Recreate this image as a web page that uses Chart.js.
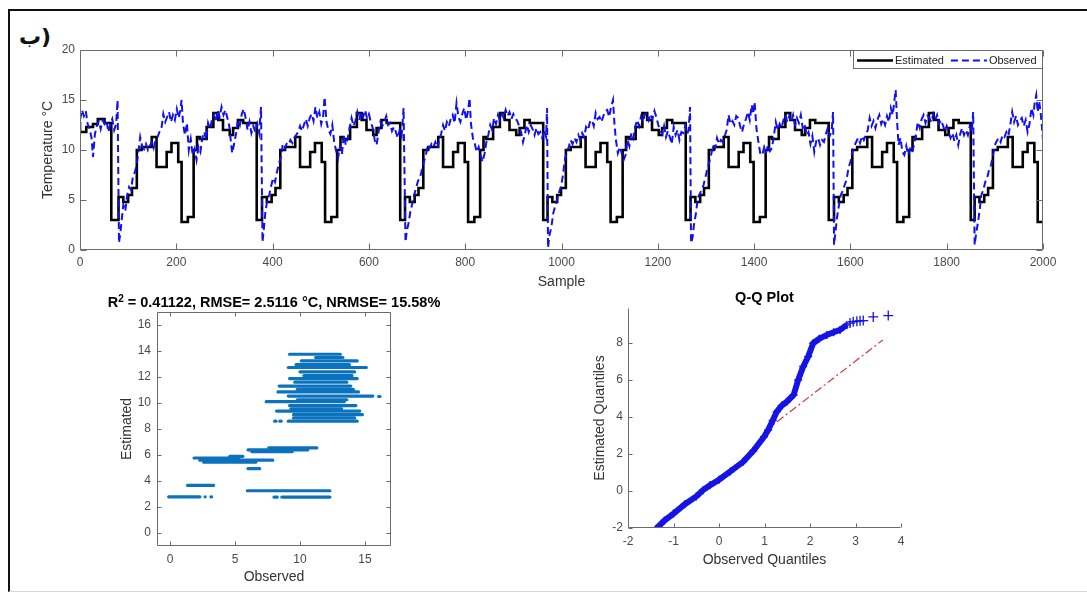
<!DOCTYPE html>
<html>
<head>
<meta charset="utf-8">
<script src="https://cdn.jsdelivr.net/npm/chart.js@4.4.1/dist/chart.umd.min.js"></script>
<style>
html, body { margin: 0; padding: 0; background: #fff; }
#page { position: relative; width: 1087px; height: 592px; overflow: hidden; }
.frame { position: absolute; left: 8px; top: 9px; width: 1100px; height: 580px;
  border-left: 2px solid #111; border-top: 2px solid #111; border-bottom: 1px solid #d6d6d6; }
canvas { position: absolute; }
#tag { position: absolute; left: 19px; top: 24px; font: bold 22px "DejaVu Sans", sans-serif;
  direction: ltr; unicode-bidi: bidi-override; color: #111; }
</style>
</head>
<body>
<div id="page">
  <div class="frame"></div>
  <div id="tag">ب)</div>
  <canvas id="topChart" width="1087" height="295" style="left:0;top:0"></canvas>
  <canvas id="scatterChart" width="428" height="305" style="left:60px;top:285px"></canvas>
  <canvas id="qqChart" width="410" height="293" style="left:560px;top:280px"></canvas>
</div>
<script>
// --- time series (sample, °C) ---
const estimated = [
  [0,12.8],[13,11.8],[27,12.3],[37,12.6],[51,13.1],[65,12.7],
  [80,3.0],[90,5.3],[100,4.8],[108,5.5],[118,6.2],[128,10.0],[149,10.3],[159,11.3],[180,8.3],[190,9.8],[204,10.7],[211,8.8],[224,2.8],[236,3.3],[243,10.0],[249,11.3],[263,11.1],[277,12.3],[287,13.7],[297,13.0],[311,12.0],[318,11.5],[328,12.2],[339,13.0],[367,12.7],
  [378,3.0],[388,5.3],[398,4.8],[406,5.5],[416,6.2],[426,10.0],[447,10.3],[457,11.3],[478,8.3],[488,9.8],[502,10.7],[509,8.8],[522,2.8],[534,3.3],[541,10.0],[547,11.3],[561,11.1],[575,12.3],[585,13.7],[595,13.0],[609,12.0],[616,11.5],[626,12.2],[637,13.0],[665,12.7],
  [675,3.0],[685,5.3],[695,4.8],[703,5.5],[713,6.2],[723,10.0],[744,10.3],[754,11.3],[775,8.3],[785,9.8],[799,10.7],[806,8.8],[819,2.8],[831,3.3],[838,10.0],[844,11.3],[858,11.1],[872,12.3],[882,13.7],[892,13.0],[906,12.0],[913,11.5],[923,12.2],[934,13.0],[962,12.7],
  [971,3.0],[981,5.3],[991,4.8],[999,5.5],[1009,6.2],[1019,10.0],[1040,10.3],[1050,11.3],[1071,8.3],[1081,9.8],[1095,10.7],[1102,8.8],[1115,2.8],[1127,3.3],[1134,10.0],[1140,11.3],[1154,11.1],[1168,12.3],[1178,13.7],[1188,13.0],[1202,12.0],[1209,11.5],[1219,12.2],[1230,13.0],[1258,12.7],
  [1268,3.0],[1278,5.3],[1288,4.8],[1296,5.5],[1306,6.2],[1316,10.0],[1337,10.3],[1347,11.3],[1368,8.3],[1378,9.8],[1392,10.7],[1399,8.8],[1412,2.8],[1424,3.3],[1431,10.0],[1437,11.3],[1451,11.1],[1465,12.3],[1475,13.7],[1485,13.0],[1499,12.0],[1506,11.5],[1516,12.2],[1527,13.0],[1555,12.7],
  [1566,3.0],[1576,5.3],[1586,4.8],[1594,5.5],[1604,6.2],[1614,10.0],[1635,10.3],[1645,11.3],[1666,8.3],[1676,9.8],[1690,10.7],[1697,8.8],[1710,2.8],[1722,3.3],[1729,10.0],[1735,11.3],[1749,11.1],[1763,12.3],[1773,13.7],[1783,13.0],[1797,12.0],[1804,11.5],[1814,12.2],[1825,13.0],[1850,12.7],
  [1858,3.0],[1868,5.3],[1878,4.8],[1886,5.5],[1896,6.2],[1906,10.0],[1927,10.3],[1937,11.3],[1958,8.3],[1968,9.8],[1982,10.7],[1989,8.8],[1998,2.8],[2000,2.8]
];

const observed = [
  [0,13.0],[4,14.0],[8,13.4],[12,13.9],[16,12.6],[20,12.1],[24,11.2],[27,9.3],[31,11.6],[35,12.4],[39,12.9],[43,12.1],[47,13.0],[51,12.6],[55,12.9],[59,11.8],[63,12.6],[67,13.1],[71,12.0],[75,12.6],[78,15.0],
  [81,0.7],[84,1.8],[87,3.2],[90,4.5],[94,3.9],[98,5.5],[102,6.3],[106,6.0],[110,7.4],[114,7.8],[118,8.6],[122,10.1],[125,11.3],[129,10.4],[133,10.1],[137,10.6],[141,10.0],[145,10.4],[149,10.8],[153,10.2],[157,11.0],[161,11.3],[165,11.8],[169,12.1],[173,13.6],[177,12.8],[181,13.3],[185,13.8],[189,12.8],[193,13.5],[197,13.0],[201,14.1],[205,13.2],[208,13.9],[211,15.0],[214,12.6],[218,11.5],[222,12.7],[226,10.0],[230,11.1],[234,9.5],[238,10.1],[242,9.0],[246,10.3],[250,9.8],[254,11.2],[258,11.8],[262,11.0],[266,12.7],[270,12.1],[274,13.0],[278,13.5],[282,12.8],[286,14.0],[290,13.3],[294,14.3],[298,13.5],[302,14.0],[306,13.2],[310,12.4],[313,11.0],[316,9.7],[320,10.6],[324,11.6],[328,13.0],[332,12.5],[336,13.6],[340,14.1],[344,13.2],[348,12.0],[352,12.8],[356,11.7],[360,12.4],[364,11.8],[368,12.6],[372,11.7],[376,14.3],
  [379,0.8],[382,2.2],[385,3.8],[389,5.0],[393,5.5],[397,6.4],[401,7.2],[405,6.8],[409,7.8],[413,8.6],[417,9.3],[421,10.5],[425,10.1],[429,10.6],[433,10.5],[437,11.0],[441,10.7],[445,11.2],[449,11.5],[453,11.8],[457,12.4],[461,11.9],[465,12.5],[469,13.1],[473,12.4],[477,13.2],[481,13.6],[485,12.9],[489,14.3],[493,13.2],[497,13.8],[501,12.6],[505,13.4],[508,15.3],[512,12.8],[516,12.0],[520,11.6],[524,12.5],[528,10.8],[532,9.9],[536,9.2],[540,10.4],[544,9.6],[548,11.5],[552,10.5],[556,11.2],[560,12.2],[564,13.2],[568,12.4],[572,12.9],[576,13.8],[580,13.0],[584,13.8],[588,13.3],[592,14.0],[596,13.2],[600,13.6],[604,12.8],[608,12.2],[612,11.0],[616,10.5],[620,11.8],[624,12.8],[628,12.4],[632,12.8],[636,13.4],[640,12.5],[644,12.7],[648,11.9],[652,12.3],[656,11.8],[660,11.2],[664,12.0],[668,11.4],[672,14.2],
  [676,0.8],[679,2.0],[682,2.6],[686,3.8],[690,4.6],[694,5.5],[698,6.2],[702,6.9],[706,7.2],[710,8.0],[714,8.8],[718,9.4],[722,10.5],[726,10.2],[730,10.6],[734,10.3],[738,10.8],[742,10.2],[746,11.0],[750,11.6],[754,12.5],[758,11.9],[762,12.8],[766,12.4],[770,13.1],[774,13.5],[778,12.7],[782,14.7],[786,13.3],[790,12.8],[794,13.6],[798,14.2],[802,13.0],[806,13.9],[809,15.2],[812,12.6],[816,11.2],[820,10.6],[824,9.8],[828,10.3],[832,9.5],[836,8.8],[840,9.6],[844,10.8],[848,11.5],[852,12.5],[856,12.0],[860,13.2],[864,12.6],[868,13.5],[872,13.0],[876,13.6],[880,13.2],[884,14.0],[888,13.4],[892,13.8],[896,13.1],[900,13.6],[904,13.2],[908,12.9],[912,12.4],[916,11.8],[920,10.8],[924,11.6],[928,12.5],[932,11.8],[936,12.5],[940,12.1],[944,11.5],[948,12.2],[952,11.6],[956,11.8],[960,11.2],[964,12.0],[968,11.3],[970,14.2],
  [972,0.2],[975,1.5],[979,2.3],[983,3.7],[987,4.4],[991,5.0],[995,5.8],[999,6.3],[1003,7.5],[1007,9.0],[1011,9.8],[1015,10.3],[1019,11.0],[1023,10.6],[1027,11.2],[1031,10.8],[1035,11.5],[1039,11.0],[1043,11.7],[1047,11.3],[1051,12.3],[1055,12.0],[1059,12.8],[1063,13.0],[1067,12.4],[1071,13.7],[1075,13.1],[1079,13.3],[1083,12.8],[1087,13.4],[1091,13.9],[1095,14.0],[1099,13.3],[1103,14.3],[1107,15.0],[1110,12.6],[1113,11.0],[1117,9.7],[1121,10.3],[1125,9.7],[1129,9.0],[1133,9.5],[1137,11.0],[1141,10.4],[1145,11.7],[1149,11.2],[1153,12.3],[1157,13.0],[1161,12.4],[1165,13.3],[1169,12.8],[1173,13.5],[1177,13.7],[1181,13.0],[1185,13.6],[1189,13.1],[1193,13.9],[1197,13.3],[1201,12.5],[1205,12.0],[1209,11.6],[1213,12.4],[1217,11.3],[1221,11.9],[1225,11.3],[1229,10.6],[1233,12.3],[1237,11.5],[1241,12.0],[1245,11.0],[1249,11.8],[1253,11.7],[1257,12.4],[1261,11.6],[1264,12.0],[1267,14.3],
  [1269,0.7],[1272,1.2],[1275,2.5],[1279,3.6],[1283,5.2],[1287,5.6],[1291,6.0],[1295,6.5],[1299,7.3],[1303,8.1],[1307,8.8],[1311,9.6],[1315,10.5],[1319,10.2],[1323,11.2],[1327,10.6],[1331,11.0],[1335,10.8],[1339,11.4],[1343,12.0],[1347,13.5],[1351,12.6],[1355,12.9],[1359,12.5],[1363,13.4],[1367,13.2],[1371,12.4],[1375,11.8],[1379,12.6],[1383,13.1],[1387,13.8],[1391,13.0],[1395,14.5],[1398,13.6],[1401,14.8],[1405,12.1],[1409,10.8],[1413,9.6],[1417,9.5],[1421,10.3],[1425,9.8],[1429,10.5],[1433,9.9],[1437,10.2],[1441,11.4],[1445,12.8],[1449,12.0],[1453,12.6],[1457,12.2],[1461,13.0],[1465,13.5],[1469,12.8],[1473,13.4],[1477,12.8],[1481,13.5],[1485,12.5],[1489,13.2],[1493,12.7],[1497,13.5],[1501,12.2],[1505,12.6],[1509,11.5],[1513,11.8],[1517,10.6],[1521,11.4],[1525,9.8],[1529,10.9],[1533,11.2],[1537,10.5],[1541,11.0],[1545,10.8],[1549,11.6],[1553,12.2],[1557,11.4],[1561,11.9],[1564,13.8],
  [1566,0.5],[1569,1.8],[1572,3.2],[1576,4.4],[1580,5.5],[1584,5.9],[1588,6.5],[1592,7.0],[1596,8.2],[1600,8.8],[1604,9.8],[1608,10.4],[1612,10.8],[1616,11.2],[1620,10.7],[1624,11.4],[1628,11.0],[1632,11.5],[1636,12.0],[1640,13.2],[1644,12.4],[1648,12.9],[1652,12.2],[1656,13.0],[1660,13.5],[1664,12.6],[1668,13.1],[1672,12.5],[1676,13.4],[1680,12.8],[1684,14.2],[1688,13.5],[1692,15.2],[1694,16.0],[1697,12.8],[1700,10.5],[1704,11.2],[1708,9.8],[1712,9.5],[1716,10.4],[1720,9.5],[1724,10.1],[1728,9.7],[1732,10.5],[1736,11.5],[1740,12.8],[1744,12.2],[1748,13.1],[1752,13.5],[1756,12.7],[1760,13.4],[1764,13.2],[1768,12.8],[1772,13.6],[1776,13.0],[1780,13.5],[1784,12.6],[1788,13.0],[1792,12.5],[1796,11.9],[1800,12.4],[1804,11.8],[1808,11.2],[1812,11.7],[1816,10.9],[1820,11.5],[1824,10.5],[1828,11.6],[1832,12.2],[1836,11.5],[1840,12.0],[1844,11.5],[1848,12.4],[1852,11.8],[1855,13.8],
  [1858,0.5],[1861,1.6],[1864,2.5],[1868,3.8],[1872,5.5],[1876,6.0],[1880,6.8],[1884,7.2],[1888,8.0],[1892,8.5],[1896,9.4],[1900,10.5],[1904,10.9],[1908,11.2],[1912,10.8],[1916,11.5],[1920,11.3],[1924,11.8],[1928,11.4],[1932,12.5],[1936,13.8],[1940,12.8],[1944,13.4],[1948,12.5],[1952,12.9],[1956,13.2],[1960,12.4],[1964,13.0],[1968,11.8],[1972,12.6],[1976,14.2],[1980,13.5],[1983,14.8],[1986,15.5],[1989,13.8],[1992,14.9],[1995,13.8],[1998,12.2],[2000,11.0]
];

const sampleTicks = [0, 200, 400, 600, 800, 1000, 1200, 1400, 1600, 1800, 2000];
const tempTicks = [0, 5, 10, 15, 20];

// --- scatter: horizontal bands of (observed, estimated) points ---
const bandEstimated = [2.78, 2.78, 2.78, 3.66, 3.25, 2.76, 2.76, 5.77, 5.6, 5.45, 5.9, 4.95, 6.55, 6.4, 6.25,
  13.75, 13.5, 13.24, 12.95, 12.73, 12.4, 12.1, 11.88, 11.6, 11.3, 11.05, 10.85, 10.53, 10.5, 10.25, 10.1,
  9.8, 9.55, 9.38, 9.1, 8.85, 8.6, 8.6, 8.6];
const bandObsFrom = [-0.1, 2.7, 3.15, 1.35, 5.95, 8.0, 8.6, 1.85, 2.3, 2.6, 4.6, 6.0, 7.6, 6.0, 6.3,
  9.2, 11.2, 10.1, 9.7, 9.1, 10.0, 10.3, 9.2, 9.6, 8.4, 9.8, 8.3, 9.1, 16.05, 9.8, 7.4,
  9.2, 9.3, 8.2, 9.5, 9.5, 9.1, 8.05, 8.45];
const bandObsTo = [2.3, 2.75, 3.2, 3.35, 12.3, 8.25, 12.3, 5.3, 7.9, 6.6, 5.6, 6.9, 11.3, 10.6, 9.4,
  13.1, 13.3, 14.4, 13.8, 15.1, 14.2, 14.0, 14.4, 13.6, 13.9, 14.1, 14.5, 15.6, 16.15, 13.6, 13.4,
  14.3, 13.2, 14.6, 14.8, 14.2, 14.4, 8.15, 8.55];
const scatterXTicks = [0, 5, 10, 15];
const scatterYTicks = [0, 2, 4, 6, 8, 10, 12, 14, 16];

// --- Q-Q plot ---
const qqObserved = [-1.38, -1.2, -1.0, -0.75, -0.5, -0.35, -0.2, 0, 0.25, 0.53, 0.75, 0.99, 1.08, 1.18, 1.27, 1.38, 1.49, 1.64, 1.74, 1.85, 1.96, 2.07, 2.2, 2.37, 2.52, 2.66, 2.81];
const qqEstimated = [-2.04, -1.6, -1.22, -0.72, -0.3, 0.04, 0.3, 0.6, 1.05, 1.57, 2.15, 2.92, 3.28, 3.8, 4.27, 4.6, 4.81, 5.17, 5.98, 6.7, 7.24, 7.96, 8.2, 8.41, 8.55, 8.68, 8.95];
const qqTailObserved = [2.88, 2.95, 3.03, 3.1, 3.17, 3.39, 3.72];
const qqTailEstimated = [9.05, 9.12, 9.15, 9.17, 9.18, 9.38, 9.45];
const qqRefObserved = [1.0, 3.6];
const qqRefEstimated = [3.2, 8.14];
const qqXTicks = [-2, -1, 0, 1, 2, 3, 4];
const qqYTicks = [-2, 0, 2, 4, 6, 8];

const FONT = '"Liberation Sans", Arial, sans-serif';
const AXIS = '#6b6b6b';
const LABEL = '#4a4a4a';
Chart.defaults.font.family = FONT;
Chart.defaults.animation = false;

// MATLAB style frame with inward ticks
const matlabAxes = {
  id: 'matlabAxes',
  afterDraw(chart, args, o) {
    const { ctx, chartArea: a, scales } = chart;
    const L = Math.round(a.left) + 0.5, R = Math.round(a.right) - 0.5;
    const T = Math.round(a.top) + 0.5, B = Math.round(a.bottom) - 0.5;
    ctx.save();
    ctx.strokeStyle = AXIS;
    ctx.lineWidth = 1;
    ctx.beginPath();
    ctx.moveTo(L, T); ctx.lineTo(L, B); ctx.lineTo(R, B);
    if (o.box) { ctx.lineTo(R, T); ctx.lineTo(L, T); }
    const len = o.tickLen || 5;
    scales.x.ticks.forEach((t, i) => {
      const px = Math.round(scales.x.getPixelForTick(i)) + 0.5;
      ctx.moveTo(px, B); ctx.lineTo(px, B - len);
      if (o.box) { ctx.moveTo(px, T); ctx.lineTo(px, T + len); }
    });
    scales.y.ticks.forEach((t, i) => {
      const py = Math.round(scales.y.getPixelForTick(i)) + 0.5;
      ctx.moveTo(L, py); ctx.lineTo(L + len, py);
      if (o.box) { ctx.moveTo(R, py); ctx.lineTo(R - len, py); }
    });
    ctx.stroke();
    ctx.restore();
  }
};

// bold title centred over the plot area (allows a raised "2")
const panelTitle = {
  id: 'panelTitle',
  afterDraw(chart, args, o) {
    if (!o.parts) return;
    const { ctx, chartArea: a } = chart;
    ctx.save();
    ctx.fillStyle = '#000';
    ctx.textBaseline = 'alphabetic';
    let w = 0;
    o.parts.forEach(p => { ctx.font = p.font; w += ctx.measureText(p.text).width; });
    let x = (a.left + a.right) / 2 - w / 2;
    o.parts.forEach(p => {
      ctx.font = p.font;
      ctx.fillText(p.text, x, a.top - o.gap - (p.rise || 0));
      x += ctx.measureText(p.text).width;
    });
    ctx.restore();
  }
};

// boxed legend in the top-right corner of the plot
const boxLegend = {
  id: 'boxLegend',
  afterDraw(chart, args, o) {
    if (!o.order) return;
    const { ctx, chartArea: a } = chart;
    const x0 = Math.round(a.right - o.width), y0 = Math.round(a.top);
    ctx.save();
    ctx.fillStyle = '#fff';
    ctx.fillRect(x0, y0, o.width, o.height);
    ctx.strokeStyle = AXIS;
    ctx.lineWidth = 1;
    ctx.strokeRect(x0 + 0.5, y0 + 0.5, o.width - 1, o.height - 1);
    ctx.font = '11px ' + FONT;
    ctx.textBaseline = 'middle';
    const yc = y0 + o.height / 2 + 1;
    let x = x0 + 4;
    o.order.forEach(idx => {
      const ds = chart.data.datasets[idx];
      ctx.strokeStyle = ds.borderColor;
      ctx.lineWidth = ds.borderWidth;
      ctx.setLineDash(ds.borderDash || []);
      ctx.beginPath(); ctx.moveTo(x, yc); ctx.lineTo(x + 36, yc); ctx.stroke();
      ctx.setLineDash([]);
      ctx.fillStyle = '#222';
      ctx.fillText(ds.label, x + 38, yc);
      x += 38 + ctx.measureText(ds.label).width + 7;
    });
    ctx.restore();
  }
};

function fixedTicks(list) {
  return axis => { axis.ticks = list.map(v => ({ value: v })); };
}
function axisTitle(text, pad) {
  return { display: true, text, color: '#333', font: { size: 14 }, padding: pad };
}
function tickOpts(pad) {
  return { color: LABEL, font: { size: 12 }, padding: pad, callback: v => String(v), maxRotation: 0, autoSkip: false };
}

// ---- top: time series ----
new Chart(document.getElementById('topChart'), {
  type: 'line',
  data: {
    datasets: [
      { label: 'Estimated', data: estimated.map(p => ({ x: p[0], y: p[1] })), stepped: 'after',
        borderColor: '#000', borderWidth: 2.6, pointRadius: 0, order: 1 },
      { label: 'Observed', data: observed.map(p => ({ x: p[0], y: p[1] })),
        borderColor: '#1010f0', borderWidth: 2, borderDash: [7, 4], pointRadius: 0, order: 0 }
    ]
  },
  options: {
    responsive: false,
    layout: { padding: { left: 36, right: 44, top: 50, bottom: 0 } },
    plugins: { legend: { display: false }, tooltip: { enabled: false },
      matlabAxes: { box: true, tickLen: 6 },
      boxLegend: { order: [0, 1], width: 190, height: 19 } },
    scales: {
      x: { type: 'linear', min: 0, max: 2000, afterBuildTicks: fixedTicks(sampleTicks),
        afterFit: s => { s.height = 45; },
        grid: { display: false, drawTicks: false }, border: { display: false },
        ticks: tickOpts(5), title: axisTitle('Sample', { top: 0, bottom: 4 }) },
      y: { type: 'linear', min: 0, max: 20, afterBuildTicks: fixedTicks(tempTicks),
        afterFit: s => { s.width = 44; },
        grid: { display: false, drawTicks: false }, border: { display: false },
        ticks: tickOpts(5), title: axisTitle('Temperature °C', { top: 4, bottom: 0 }) }
    }
  },
  plugins: [matlabAxes, boxLegend]
});

// ---- bottom left: estimated vs observed ----
new Chart(document.getElementById('scatterChart'), {
  type: 'line',
  data: {
    datasets: bandEstimated.map((y, i) => ({
      data: [{ x: bandObsFrom[i], y }, { x: bandObsTo[i], y }],
      borderColor: '#0b72bd', borderWidth: 3.2, borderCapStyle: 'round', pointRadius: 0
    }))
  },
  options: {
    responsive: false,
    layout: { padding: { left: 55, right: 97, top: 27, bottom: 0 } },
    plugins: { legend: { display: false }, tooltip: { enabled: false },
      matlabAxes: { box: true, tickLen: 4 },
      panelTitle: { gap: 5, parts: [
        { text: 'R', font: 'bold 14.5px ' + FONT },
        { text: '2', font: 'bold 10px ' + FONT, rise: 5 },
        { text: ' = 0.41122, RMSE= 2.5116 °C, NRMSE= 15.58%', font: 'bold 14.5px ' + FONT }
      ] } },
    scales: {
      x: { type: 'linear', min: -1, max: 17, afterBuildTicks: fixedTicks(scatterXTicks),
        afterFit: s => { s.height = 44; },
        grid: { display: false, drawTicks: false }, border: { display: false },
        ticks: tickOpts(6), title: axisTitle('Observed', { top: 0, bottom: 4 }) },
      y: { type: 'linear', min: -1, max: 17, afterBuildTicks: fixedTicks(scatterYTicks),
        afterFit: s => { s.width = 42; },
        grid: { display: false, drawTicks: false }, border: { display: false },
        ticks: tickOpts(6), title: axisTitle('Estimated', { top: 4, bottom: 0 }) }
    }
  },
  plugins: [matlabAxes, panelTitle]
});

// ---- bottom right: Q-Q plot ----
new Chart(document.getElementById('qqChart'), {
  type: 'line',
  data: {
    datasets: [
      { data: qqObserved.map((x, i) => ({ x, y: qqEstimated[i] })), borderColor: '#1414e6', borderWidth: 6,
        pointStyle: 'cross', pointRadius: 4, pointBorderWidth: 1.5, pointBorderColor: '#1414e6', order: 0 },
      { data: qqTailObserved.map((x, i) => ({ x, y: qqTailEstimated[i] })), showLine: false,
        pointStyle: 'cross', pointRadius: 5, pointBorderWidth: 1.3, pointBorderColor: '#1414e6', order: 0 },
      { data: qqRefObserved.map((x, i) => ({ x, y: qqRefEstimated[i] })), borderColor: '#d03a3a',
        borderWidth: 1.2, borderDash: [8, 3, 2, 3], pointRadius: 0, order: 2 }
    ]
  },
  options: {
    responsive: false,
    layout: { padding: { left: 28, right: 69, top: 28, bottom: 0 } },
    plugins: { legend: { display: false }, tooltip: { enabled: false },
      matlabAxes: { box: false, tickLen: 4 },
      panelTitle: { gap: 6, parts: [{ text: 'Q-Q Plot', font: 'bold 14.5px ' + FONT }] } },
    scales: {
      x: { type: 'linear', min: -2, max: 4, afterBuildTicks: fixedTicks(qqXTicks),
        afterFit: s => { s.height = 45; },
        grid: { display: false, drawTicks: false }, border: { display: false },
        ticks: tickOpts(6), title: axisTitle('Observed Quantiles', { top: 0, bottom: 4 }) },
      y: { type: 'linear', min: -2, max: 9.86, afterBuildTicks: fixedTicks(qqYTicks),
        afterFit: s => { s.width = 40; },
        grid: { display: false, drawTicks: false }, border: { display: false },
        ticks: tickOpts(5), title: axisTitle('Estimated Quantiles', { top: 4, bottom: 0 }) }
    }
  },
  plugins: [matlabAxes, panelTitle]
});
</script>
</body>
</html>
